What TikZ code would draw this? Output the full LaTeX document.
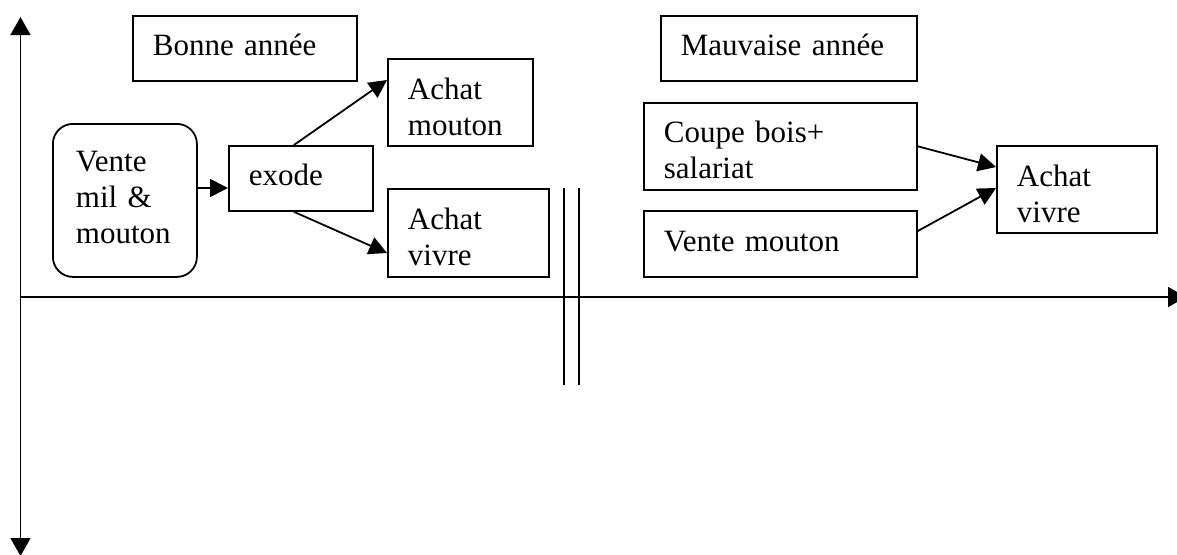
\documentclass[tikz,border=0pt]{standalone}
\usepackage{fontspec}
\setmainfont{Liberation Serif}
\usetikzlibrary{arrows.meta}

\begin{document}
\begin{tikzpicture}[x=0.5pt,y=-0.5pt,->,>={Triangle[length=9pt,width=9pt]},line width=0.9pt,
	every node/.style={font=\fontsize{15.5}{18}\selectfont},
	box/.style={draw,rectangle,anchor=north west,align=left,inner xsep=10pt,inner ysep=0pt}]
			\useasboundingbox (0,0) rectangle (1177,554);

			\node[box,text width=92pt,minimum height=32.5pt] (bonne) at (132,15) {\strut Bonne année};
			\node[box,text width=108pt,minimum height=32.5pt] (mauvaise) at (660,15) {\strut Mauvaise année};
			\node[box,rounded corners=10pt,inner xsep=11.5pt,text width=49pt,minimum height=76.5pt] (vente) at (52,123) {\strut Vente\\ mil \&\\ mouton\strut};
			\node[box,text width=52pt,minimum height=32.5pt] (exode) at (228,145) {\strut exode};
			\node[box,text width=52.5pt,minimum height=43.5pt] (achatm) at (387,58) {\rule{0pt}{20pt}Achat\\ mouton\strut};
			\node[box,text width=60.5pt,minimum height=44pt] (achatv) at (387,188) {\rule{0pt}{20pt}Achat\\ vivre\strut};
			\node[box,text width=116.5pt,minimum height=43pt] (coupe) at (643,102) {\rule{0pt}{20pt}Coupe bois+\\ salariat\strut};
			\node[box,text width=116.5pt,minimum height=33pt] (ventem) at (643,210) {\strut Vente mouton};
			\node[box,text width=60pt,minimum height=43.5pt] (achatv2) at (996,145) {\rule{0pt}{20pt}Achat\\ vivre\strut};

			\coordinate (ytop) at (20.5,17);
			\coordinate (ybot) at (20.5,556);
			\coordinate (orig) at (20.5,297);
			\coordinate (xend) at (1186,297);

			\draw[<->,>={Triangle[length=9pt,width=10pt]}] (ytop) -- (ybot);
			\draw[>={Triangle[length=9pt,width=10pt]}] (orig) -- (xend);
			\foreach \x in {564,579}
				\draw[-] (\x,188) -- (\x,385);

			\path
				(vente.east |- 0,188) edge (exode.west |- 0,188)
				([xshift=-3.5pt]exode.north) edge (achatm.west |- 0,80)
				([xshift=-3.5pt]exode.south) edge (achatv.west |- 0,253)
				(coupe.east) edge (achatv2.west |- 0,167)
				(ventem.east |- 0,231) edge (achatv2.west |- 0,188)
			;
		\end{tikzpicture}
\end{document}
